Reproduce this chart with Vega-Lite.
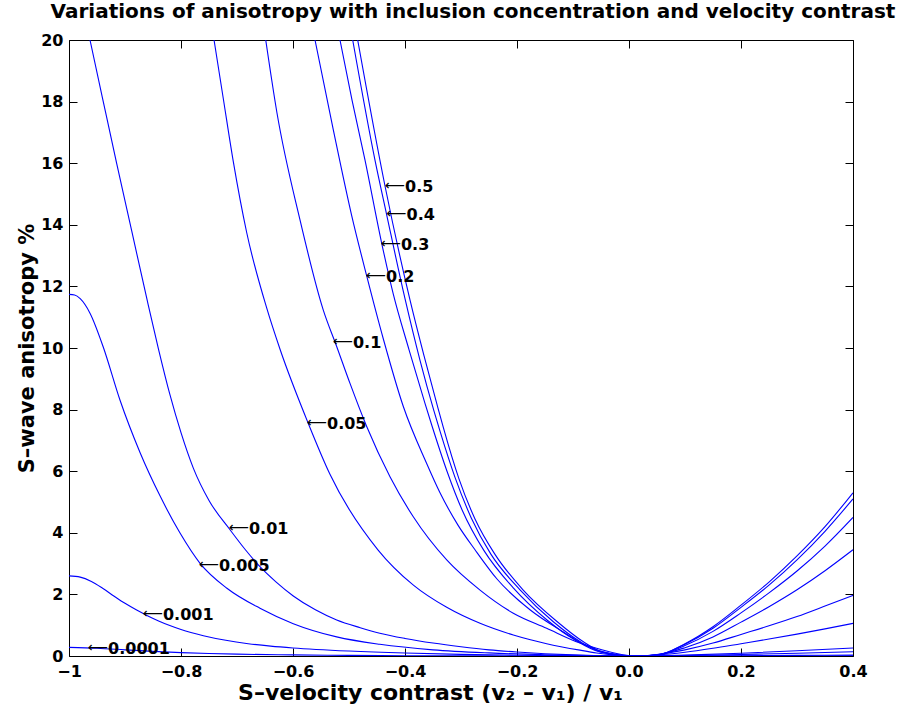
{
  "$schema": "https://vega.github.io/schema/vega-lite/v6.json",
  "width": 784,
  "height": 616,
  "autosize": {"type": "none"},
  "padding": {"left": 69, "top": 40, "right": 50, "bottom": 59},
  "background": "white",
  "config": {"view": {"stroke": "black", "strokeWidth": 1}, "font": "DejaVu Sans"},
  "title": {"text": "Variations of anisotropy with inclusion concentration and velocity contrast", "fontSize": 20, "fontWeight": "bold", "font": "DejaVu Sans", "offset": 10, "anchor": "middle", "color": "black", "dx": 12},
  "datasets": {
    "curves": [
      {"c":"0.0001","x":-1,"y":0.28},{"c":"0.0001","x":-0.95,"y":0.25},{"c":"0.0001","x":-0.9,"y":0.2},{"c":"0.0001","x":-0.85,"y":0.15},{"c":"0.0001","x":-0.8,"y":0.11},{"c":"0.0001","x":-0.75,"y":0.08},{"c":"0.0001","x":-0.7,"y":0.06},{"c":"0.0001","x":-0.6,"y":0.035},{"c":"0.0001","x":-0.5,"y":0.02},{"c":"0.0001","x":-0.4,"y":0.01},{"c":"0.0001","x":-0.3,"y":0.005},{"c":"0.0001","x":-0.2,"y":0.002},{"c":"0.0001","x":0.01,"y":0},{"c":"0.0001","x":0.2,"y":0.001},{"c":"0.0001","x":0.4,"y":0.003},

      {"c":"0.001","x":-1,"y":2.6},{"c":"0.001","x":-0.98,"y":2.56},{"c":"0.001","x":-0.96,"y":2.42},{"c":"0.001","x":-0.94,"y":2.2},{"c":"0.001","x":-0.92,"y":1.95},{"c":"0.001","x":-0.9,"y":1.71},{"c":"0.001","x":-0.88,"y":1.5},{"c":"0.001","x":-0.86,"y":1.31},{"c":"0.001","x":-0.84,"y":1.14},{"c":"0.001","x":-0.82,"y":0.99},{"c":"0.001","x":-0.8,"y":0.86},{"c":"0.001","x":-0.76,"y":0.66},{"c":"0.001","x":-0.72,"y":0.51},{"c":"0.001","x":-0.68,"y":0.4},{"c":"0.001","x":-0.64,"y":0.32},{"c":"0.001","x":-0.6,"y":0.26},{"c":"0.001","x":-0.5,"y":0.16},{"c":"0.001","x":-0.4,"y":0.095},{"c":"0.001","x":-0.3,"y":0.052},{"c":"0.001","x":-0.2,"y":0.025},{"c":"0.001","x":-0.1,"y":0.008},{"c":"0.001","x":0.01,"y":0},{"c":"0.001","x":0.1,"y":0.004},{"c":"0.001","x":0.2,"y":0.01},{"c":"0.001","x":0.3,"y":0.02},{"c":"0.001","x":0.4,"y":0.03},

      {"c":"0.005","x":-1,"y":11.74},{"c":"0.005","x":-0.99,"y":11.72},{"c":"0.005","x":-0.98,"y":11.6},{"c":"0.005","x":-0.9625,"y":11.13},{"c":"0.005","x":-0.939,"y":10.04},{"c":"0.005","x":-0.909,"y":8.31},{"c":"0.005","x":-0.873,"y":6.6},{"c":"0.005","x":-0.8375,"y":5.2},{"c":"0.005","x":-0.802,"y":4.0},{"c":"0.005","x":-0.766,"y":3.01},{"c":"0.005","x":-0.718,"y":2.2},{"c":"0.005","x":-0.659,"y":1.55},{"c":"0.005","x":-0.5995,"y":1.05},{"c":"0.005","x":-0.522,"y":0.62},{"c":"0.005","x":-0.445,"y":0.38},{"c":"0.005","x":-0.35,"y":0.2},{"c":"0.005","x":-0.25,"y":0.1},{"c":"0.005","x":-0.15,"y":0.04},{"c":"0.005","x":-0.05,"y":0.008},{"c":"0.005","x":0.01,"y":0},{"c":"0.005","x":0.1,"y":0.015},{"c":"0.005","x":0.2,"y":0.05},{"c":"0.005","x":0.3,"y":0.09},{"c":"0.005","x":0.4,"y":0.14},

      {"c":"0.01","x":-0.9625,"y":20},{"c":"0.01","x":-0.94,"y":18.1},{"c":"0.01","x":-0.915,"y":16.0},{"c":"0.01","x":-0.888,"y":13.8},{"c":"0.01","x":-0.861,"y":11.6},{"c":"0.01","x":-0.84,"y":9.95},{"c":"0.01","x":-0.82,"y":8.5},{"c":"0.01","x":-0.8,"y":7.25},{"c":"0.01","x":-0.778,"y":6.1},{"c":"0.01","x":-0.75,"y":5.05},{"c":"0.01","x":-0.7125,"y":4.1},{"c":"0.01","x":-0.685,"y":3.45},{"c":"0.01","x":-0.659,"y":2.9},{"c":"0.01","x":-0.63,"y":2.4},{"c":"0.01","x":-0.5995,"y":1.95},{"c":"0.01","x":-0.56,"y":1.5},{"c":"0.01","x":-0.522,"y":1.17},{"c":"0.01","x":-0.48,"y":0.92},{"c":"0.01","x":-0.445,"y":0.74},{"c":"0.01","x":-0.4,"y":0.57},{"c":"0.01","x":-0.35,"y":0.42},{"c":"0.01","x":-0.3,"y":0.3},{"c":"0.01","x":-0.25,"y":0.2},{"c":"0.01","x":-0.2,"y":0.13},{"c":"0.01","x":-0.15,"y":0.075},{"c":"0.01","x":-0.1,"y":0.035},{"c":"0.01","x":-0.05,"y":0.01},{"c":"0.01","x":0.01,"y":0},{"c":"0.01","x":0.1,"y":0.03},{"c":"0.01","x":0.2,"y":0.09},{"c":"0.01","x":0.3,"y":0.17},{"c":"0.01","x":0.4,"y":0.26},

      {"c":"0.05","x":-0.741,"y":20},{"c":"0.05","x":-0.7245,"y":18.1},{"c":"0.05","x":-0.7066,"y":16.05},{"c":"0.05","x":-0.6827,"y":13.75},{"c":"0.05","x":-0.647,"y":11.3},{"c":"0.05","x":-0.623,"y":9.95},{"c":"0.05","x":-0.5727,"y":7.55},{"c":"0.05","x":-0.534,"y":5.9},{"c":"0.05","x":-0.448,"y":3.44},{"c":"0.05","x":-0.385,"y":2.3},{"c":"0.05","x":-0.3255,"y":1.58},{"c":"0.05","x":-0.266,"y":1.06},{"c":"0.05","x":-0.2066,"y":0.68},{"c":"0.05","x":-0.147,"y":0.4},{"c":"0.05","x":-0.0875,"y":0.19},{"c":"0.05","x":-0.058,"y":0.1},{"c":"0.05","x":0.01,"y":0},{"c":"0.05","x":0.05,"y":0.03},{"c":"0.05","x":0.1,"y":0.12},{"c":"0.05","x":0.15,"y":0.25},{"c":"0.05","x":0.2,"y":0.4},{"c":"0.05","x":0.25,"y":0.55},{"c":"0.05","x":0.3,"y":0.71},{"c":"0.05","x":0.35,"y":0.88},{"c":"0.05","x":0.4,"y":1.06},

      {"c":"0.1","x":-0.6487,"y":20},{"c":"0.1","x":-0.6286,"y":17.63},{"c":"0.1","x":-0.5875,"y":14.16},{"c":"0.1","x":-0.5459,"y":11.23},{"c":"0.1","x":-0.522,"y":10.05},{"c":"0.1","x":-0.4982,"y":8.85},{"c":"0.1","x":-0.4684,"y":7.45},{"c":"0.1","x":-0.4268,"y":5.82},{"c":"0.1","x":-0.3852,"y":4.52},{"c":"0.1","x":-0.3255,"y":3.12},{"c":"0.1","x":-0.266,"y":2.14},{"c":"0.1","x":-0.2066,"y":1.39},{"c":"0.1","x":-0.147,"y":0.9},{"c":"0.1","x":-0.0875,"y":0.42},{"c":"0.1","x":-0.058,"y":0.25},{"c":"0.1","x":0.01,"y":0},{"c":"0.1","x":0.05,"y":0.05},{"c":"0.1","x":0.1,"y":0.2},{"c":"0.1","x":0.15,"y":0.42},{"c":"0.1","x":0.2,"y":0.7},{"c":"0.1","x":0.25,"y":0.98},{"c":"0.1","x":0.3,"y":1.28},{"c":"0.1","x":0.35,"y":1.62},{"c":"0.1","x":0.4,"y":1.97},

      {"c":"0.2","x":-0.5607,"y":20},{"c":"0.2","x":-0.528,"y":17.08},{"c":"0.2","x":-0.4952,"y":14.3},{"c":"0.2","x":-0.4684,"y":12.34},{"c":"0.2","x":-0.4388,"y":10.3},{"c":"0.2","x":-0.403,"y":8.1},{"c":"0.2","x":-0.3613,"y":6.25},{"c":"0.2","x":-0.3375,"y":5.3},{"c":"0.2","x":-0.3054,"y":4.25},{"c":"0.2","x":-0.275,"y":3.45},{"c":"0.2","x":-0.2357,"y":2.5},{"c":"0.2","x":-0.1768,"y":1.5},{"c":"0.2","x":-0.1173,"y":0.78},{"c":"0.2","x":-0.0755,"y":0.33},{"c":"0.2","x":-0.0339,"y":0.08},{"c":"0.2","x":0.01,"y":0},{"c":"0.2","x":0.05,"y":0.04},{"c":"0.2","x":0.1,"y":0.27},{"c":"0.2","x":0.15,"y":0.62},{"c":"0.2","x":0.2,"y":1.1},{"c":"0.2","x":0.25,"y":1.6},{"c":"0.2","x":0.3,"y":2.15},{"c":"0.2","x":0.35,"y":2.77},{"c":"0.2","x":0.4,"y":3.45},

      {"c":"0.3","x":-0.5161,"y":20},{"c":"0.3","x":-0.4946,"y":18.05},{"c":"0.3","x":-0.4714,"y":16.1},{"c":"0.3","x":-0.4416,"y":13.4},{"c":"0.3","x":-0.4209,"y":11.75},{"c":"0.3","x":-0.3929,"y":9.95},{"c":"0.3","x":-0.3643,"y":8.2},{"c":"0.3","x":-0.3523,"y":7.5},{"c":"0.3","x":-0.325,"y":6.0},{"c":"0.3","x":-0.2982,"y":4.75},{"c":"0.3","x":-0.2589,"y":3.42},{"c":"0.3","x":-0.2071,"y":2.22},{"c":"0.3","x":-0.1464,"y":1.17},{"c":"0.3","x":-0.0964,"y":0.52},{"c":"0.3","x":-0.0518,"y":0.13},{"c":"0.3","x":0.01,"y":0},{"c":"0.3","x":0.05,"y":0.03},{"c":"0.3","x":0.1,"y":0.34},{"c":"0.3","x":0.15,"y":0.8},{"c":"0.3","x":0.2,"y":1.4},{"c":"0.3","x":0.25,"y":2.05},{"c":"0.3","x":0.3,"y":2.76},{"c":"0.3","x":0.35,"y":3.57},{"c":"0.3","x":0.4,"y":4.5},

      {"c":"0.4","x":-0.4934,"y":20},{"c":"0.4","x":-0.4536,"y":16.1},{"c":"0.4","x":-0.433,"y":14.35},{"c":"0.4","x":-0.4,"y":11.6},{"c":"0.4","x":-0.3732,"y":9.6},{"c":"0.4","x":-0.3482,"y":7.95},{"c":"0.4","x":-0.3375,"y":7.3},{"c":"0.4","x":-0.3107,"y":5.8},{"c":"0.4","x":-0.2821,"y":4.5},{"c":"0.4","x":-0.2464,"y":3.3},{"c":"0.4","x":-0.1946,"y":2.15},{"c":"0.4","x":-0.1357,"y":1.12},{"c":"0.4","x":-0.0875,"y":0.47},{"c":"0.4","x":-0.0482,"y":0.12},{"c":"0.4","x":0.01,"y":0},{"c":"0.4","x":0.05,"y":0.03},{"c":"0.4","x":0.1,"y":0.38},{"c":"0.4","x":0.15,"y":0.9},{"c":"0.4","x":0.2,"y":1.58},{"c":"0.4","x":0.25,"y":2.3},{"c":"0.4","x":0.3,"y":3.12},{"c":"0.4","x":0.35,"y":4.05},{"c":"0.4","x":0.4,"y":5.1},

      {"c":"0.5","x":-0.4845,"y":20},{"c":"0.5","x":-0.4357,"y":15.26},{"c":"0.5","x":-0.3911,"y":11.56},{"c":"0.5","x":-0.3661,"y":9.75},{"c":"0.5","x":-0.3411,"y":8.05},{"c":"0.5","x":-0.3316,"y":7.42},{"c":"0.5","x":-0.3036,"y":5.75},{"c":"0.5","x":-0.275,"y":4.45},{"c":"0.5","x":-0.2393,"y":3.3},{"c":"0.5","x":-0.1893,"y":2.15},{"c":"0.5","x":-0.1286,"y":1.12},{"c":"0.5","x":-0.0821,"y":0.47},{"c":"0.5","x":-0.0464,"y":0.12},{"c":"0.5","x":0.01,"y":0},{"c":"0.5","x":0.05,"y":0.03},{"c":"0.5","x":0.1,"y":0.4},{"c":"0.5","x":0.15,"y":0.95},{"c":"0.5","x":0.2,"y":1.65},{"c":"0.5","x":0.25,"y":2.4},{"c":"0.5","x":0.3,"y":3.25},{"c":"0.5","x":0.35,"y":4.2},{"c":"0.5","x":0.4,"y":5.3}
    ],
    "labels": [
      {"c":"0.5","x":-0.4357,"y":15.26},
      {"c":"0.4","x":-0.433,"y":14.35},
      {"c":"0.3","x":-0.4429,"y":13.39},
      {"c":"0.2","x":-0.4696,"y":12.34},
      {"c":"0.1","x":-0.5286,"y":10.19},
      {"c":"0.05","x":-0.575,"y":7.56},
      {"c":"0.01","x":-0.7143,"y":4.16},
      {"c":"0.005","x":-0.7679,"y":2.95},
      {"c":"0.001","x":-0.8679,"y":1.36},
      {"c":"0.0001","x":-0.966,"y":0.26}
    ],
    "frame": [{"x": -1, "y": 0}, {"x": 0.4, "y": 20}]
  },
  "layer": [
    {
      "data": {"name": "curves"},
      "mark": {"type": "line", "stroke": "#0000ff", "strokeWidth": 1.1, "interpolate": "monotone", "clip": true},
      "encoding": {
        "x": {"field": "x", "type": "quantitative", "scale": {"domain": [-1, 0.4], "nice": false, "zero": false},
          "axis": {"orient": "bottom", "values": [-1, -0.8, -0.6, -0.4, -0.2, 0, 0.2, 0.4],
            "labelExpr": "datum.value == -1 ? '−1' : format(datum.value, '.1f')",
            "title": "S–velocity contrast (v₂ – v₁) / v₁", "tickSize": -8, "tickColor": "black", "domain": false, "grid": false,
            "labelFont": "DejaVu Sans", "labelFontSize": 16, "labelFontWeight": "bold", "labelColor": "black", "labelPadding": 15, "labelFlush": false,
            "titleFont": "DejaVu Sans", "titleFontSize": 22, "titleFontWeight": "bold", "titleColor": "black", "titlePadding": 3, "titleX": 361, "titleAlign": "center"}},
        "y": {"field": "y", "type": "quantitative", "scale": {"domain": [0, 20], "nice": false},
          "axis": {"orient": "left", "values": [0, 2, 4, 6, 8, 10, 12, 14, 16, 18, 20], "format": "d",
            "title": "S–wave anisotropy %", "tickSize": -8, "tickColor": "black", "domain": false, "grid": false,
            "labelFont": "DejaVu Sans", "labelFontSize": 16, "labelFontWeight": "bold", "labelColor": "black", "labelPadding": 14, "labelFlush": false,
            "titleFont": "DejaVu Sans", "titleFontSize": 21, "titleFontWeight": "bold", "titleColor": "black", "titlePadding": 3}},
        "detail": {"field": "c", "type": "nominal"}
      }
    },
    {
      "data": {"name": "labels"},
      "mark": {"type": "text", "text": "⟵", "align": "left", "baseline": "middle", "fontSize": 14, "font": "DejaVu Sans", "color": "black"},
      "encoding": {
        "x": {"field": "x", "type": "quantitative", "axis": null},
        "y": {"field": "y", "type": "quantitative", "axis": null}
      }
    },
    {
      "data": {"name": "labels"},
      "mark": {"type": "text", "align": "left", "baseline": "middle", "dx": 20, "dy": 1, "fontSize": 16, "fontWeight": "bold", "font": "DejaVu Sans", "color": "black"},
      "encoding": {
        "x": {"field": "x", "type": "quantitative", "axis": null},
        "y": {"field": "y", "type": "quantitative", "axis": null},
        "text": {"field": "c", "type": "nominal"}
      }
    },
    {
      "data": {"name": "frame"},
      "mark": {"type": "point", "opacity": 0},
      "encoding": {
        "x": {"field": "x", "type": "quantitative",
          "axis": {"orient": "top", "values": [-1, -0.8, -0.6, -0.4, -0.2, 0, 0.2, 0.4], "labels": false, "title": null, "tickSize": -8, "tickColor": "black", "domain": false, "grid": false}},
        "y": {"field": "y", "type": "quantitative",
          "axis": {"orient": "right", "values": [0, 2, 4, 6, 8, 10, 12, 14, 16, 18, 20], "labels": false, "title": null, "tickSize": -8, "tickColor": "black", "domain": false, "grid": false}}
      }
    }
  ],
  "resolve": {"axis": {"x": "independent", "y": "independent"}}
}
